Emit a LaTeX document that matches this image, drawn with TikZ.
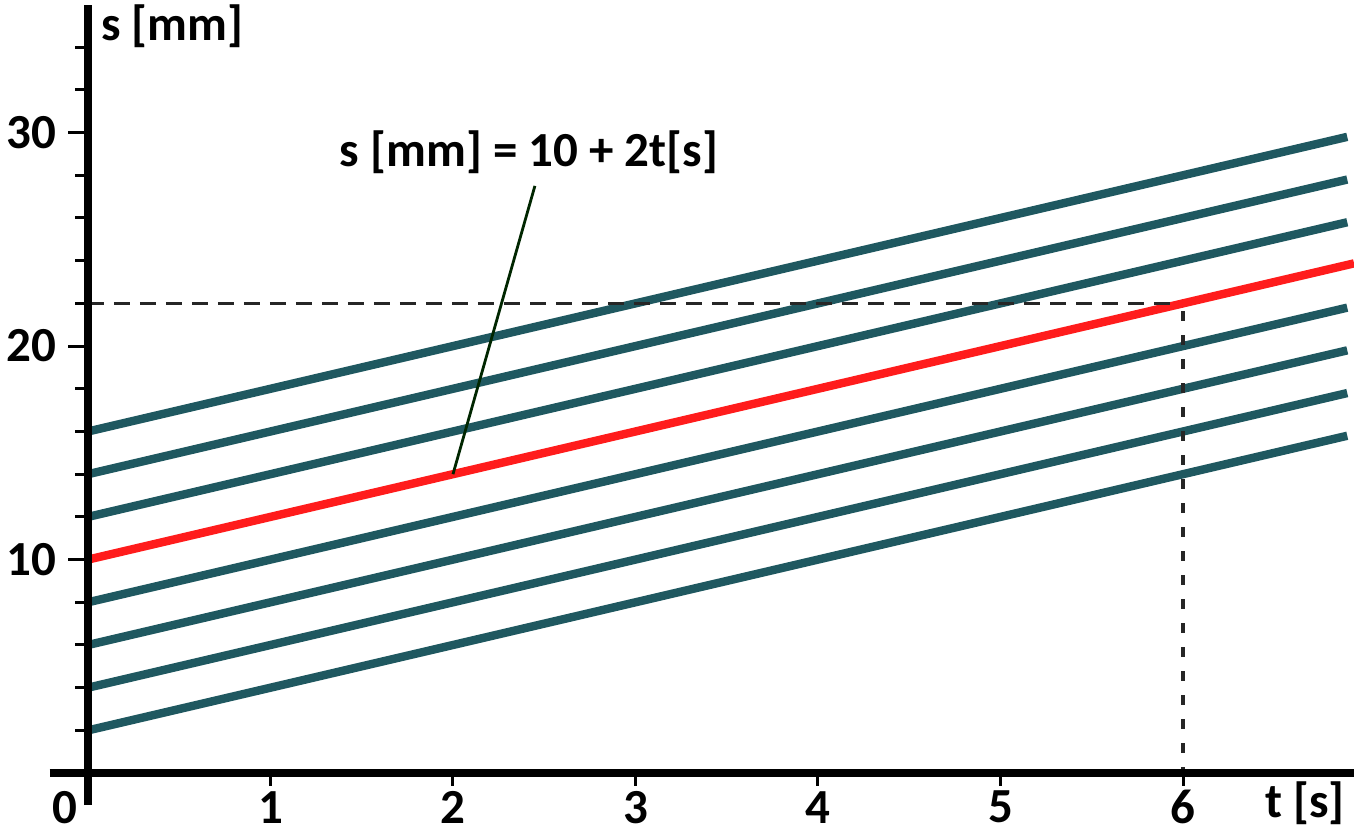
\documentclass[tikz,border=0pt]{standalone}
\usepackage{fontspec}
\setmainfont{Carlito}
\usetikzlibrary{positioning}
\definecolor{linegreen}{RGB}{31,88,96}
\definecolor{linered}{RGB}{255,28,28}
\tikzset{
	lbl/.style={font=\fontsize{24.5}{28}\selectfont\bfseries, inner sep=0pt},
	sline/.style={line width=4.2pt, color=linegreen},
	helpline/.style={dash pattern=on 8pt off 5pt, line width=1.6pt, color=black!85},
	leader/.style={line width=1.4pt, color=black!85!green},
}
\begin{document}
\begin{tikzpicture}[x=91.25pt, y=10.675pt]
	\useasboundingbox (-0.482,-2.717) rectangle (6.937,36.21);
	% family of lines s = s0 + 2t
	\foreach \s in {2,4,6,8,12,14,16}
		\draw[sline] (0,\s) -- (6.9,\s+13.8);
	\draw[sline, color=linered] (0,10) -- (6.937,23.874);
	% reading at t = 6
	\coordinate (q) at (6,22);
	\draw[helpline] (0,22) -- ([xshift=-6pt]q);
	\draw[helpline, dash pattern=on 5pt off 7pt] ([yshift=-4pt]q) -- (6,-0.3);
	% axes
	\draw[line width=3.8pt] (-0.21,0) -- (6.937,0);
	\draw[line width=3.8pt] (0,-1.5) -- (0,35.97);
	\foreach \t in {1,...,6}
		\draw[line width=1.5pt] (\t,0) -- ++(0,-0.6);
	\foreach \s in {2,4,...,34}
		\draw[line width=1.5pt] (0,\s) -- ++(-0.07,0);
	\foreach \s in {10,20,30}
		\draw[line width=1.5pt] (0,\s) -- ++(-0.11,0);
	% labels
	\node[lbl, anchor=west] (ylab) at (0.07,35.0) {s [mm]};
	\node[lbl] (xlab) at (6.668,-1.42) {t [s]};
	\node[lbl] (xt0) at (-0.126,-1.6) {0};
	\foreach \t in {1,...,6}
		\node[lbl] (xt\t) at (\t,-1.6) {\t};
	\foreach \s in {10,20,30}
		\node[lbl, anchor=east] (yt\s) at (-0.17,\s) {\s};
	\node[lbl] (formula) at (2.416,29.09) {s [mm] = 10 + 2t[s]};
	\coordinate (p2) at (2,14);
	\draw[leader] ([xshift=3pt,yshift=-6pt]formula.south) -- (p2);
\end{tikzpicture}
\end{document}
